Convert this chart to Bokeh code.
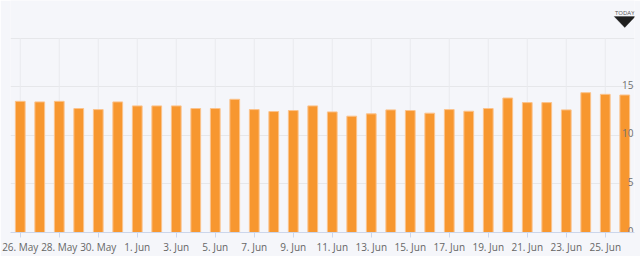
from bokeh.plotting import figure
from bokeh.models import FixedTicker, Range1d, Label, ColumnDataSource, PolyAnnotation
from bokeh.core.properties import value
from bokeh.embed import file_html
from bokeh.resources import INLINE

# Data
dates = ["26. May", "27. May", "28. May", "29. May", "30. May", "31. May",
         "1. Jun", "2. Jun", "3. Jun", "4. Jun", "5. Jun", "6. Jun", "7. Jun",
         "8. Jun", "9. Jun", "10. Jun", "11. Jun", "12. Jun", "13. Jun",
         "14. Jun", "15. Jun", "16. Jun", "17. Jun", "18. Jun", "19. Jun",
         "20. Jun", "21. Jun", "22. Jun", "23. Jun", "24. Jun", "25. Jun",
         "26. Jun"]
values = [13.5, 13.44, 13.5, 12.76, 12.65, 13.44, 13.03, 13.03, 13.03, 12.76,
          12.76, 13.71, 12.65, 12.45, 12.55, 13.03, 12.41, 11.97, 12.21, 12.62,
          12.55, 12.28, 12.65, 12.48, 12.76, 13.84, 13.37, 13.37, 12.62, 14.39,
          14.22, 14.15]
y_ticks = [0, 5, 10, 15, 20]
y_tick_labels = ["0", "5", "10", "15", ""]
y_max = 20
x_tick_every = 2
marker_text = "TODAY"

idx = list(range(len(dates)))
x_ticks = idx[::x_tick_every]
font = "Open Sans"

# frame spans the full height above the axis; the value axis tops out at y_max
# 38 px below the top of the canvas (frame height 234 px, 196 px for 0..y_max)
frame_h = 234
plot_h = 196
y_top = y_max * frame_h / plot_h

p = figure(width=640, height=256, output_backend="svg", toolbar_location=None,
           x_range=Range1d(-0.5, len(dates) - 0.5), y_range=Range1d(0, y_top),
           min_border_left=10, min_border_right=6, min_border_top=0,
           min_border_bottom=22)
p.background_fill_color = "#f5f6fa"
p.border_fill_color = "#f5f6fa"
p.outline_line_color = None

# vertical grid lines only up to y_max
p.xgrid.visible = False
p.segment(x0=x_ticks, y0=[0] * len(x_ticks), x1=x_ticks, y1=[y_max] * len(x_ticks),
          line_color="#e9eaee", line_width=1)

src = ColumnDataSource(dict(x=idx, top=values))
p.vbar(x="x", top="top", width=0.5, bottom=0, source=src,
       fill_color="#f7972f", line_color="#fbc38c", line_width=1)

# y labels inside right edge
lab_src = ColumnDataSource(dict(x=[len(dates) - 0.5] * len(y_ticks), y=y_ticks, t=y_tick_labels))
p.text(x="x", y="y", text="t", source=lab_src, text_align="right",
       text_baseline="alphabetic", y_offset=-2, x_offset=-1,
       text_font=value(font), text_font_size="10px", text_color="#707070")

p.yaxis.visible = False
p.ygrid.ticker = FixedTicker(ticks=y_ticks)
p.ygrid.grid_line_color = "#e6e7ea"

ax = p.xaxis[0]
ax.ticker = FixedTicker(ticks=x_ticks)
ax.major_label_overrides = {i: dates[i] for i in x_ticks}
ax.axis_line_color = "#ccd6eb"
ax.major_tick_line_color = "#ccd6eb"
ax.major_tick_out = 5
ax.major_tick_in = 0
ax.minor_tick_out = 0
ax.minor_tick_in = 0
ax.major_label_standoff = 2
ax.major_label_text_font = font
ax.major_label_text_font_size = "10px"
ax.major_label_text_color = "#666666"

# TODAY marker above the last bar (screen y measured up from the frame bottom)
last = idx[-1]
p.add_layout(Label(x=last, y=220, x_units="data", y_units="screen",
                   text=marker_text, text_align="center", text_baseline="alphabetic",
                   text_font=font, text_font_size="6px", text_color="#555555"))
p.add_layout(PolyAnnotation(xs=[last - 0.54, last + 0.54, last], ys=[216, 216, 205],
                            xs_units="data", ys_units="screen",
                            fill_color="#1f1f1f", fill_alpha=1.0, line_color="#1f1f1f"))

open("out.html", "w").write(file_html(p, INLINE))
